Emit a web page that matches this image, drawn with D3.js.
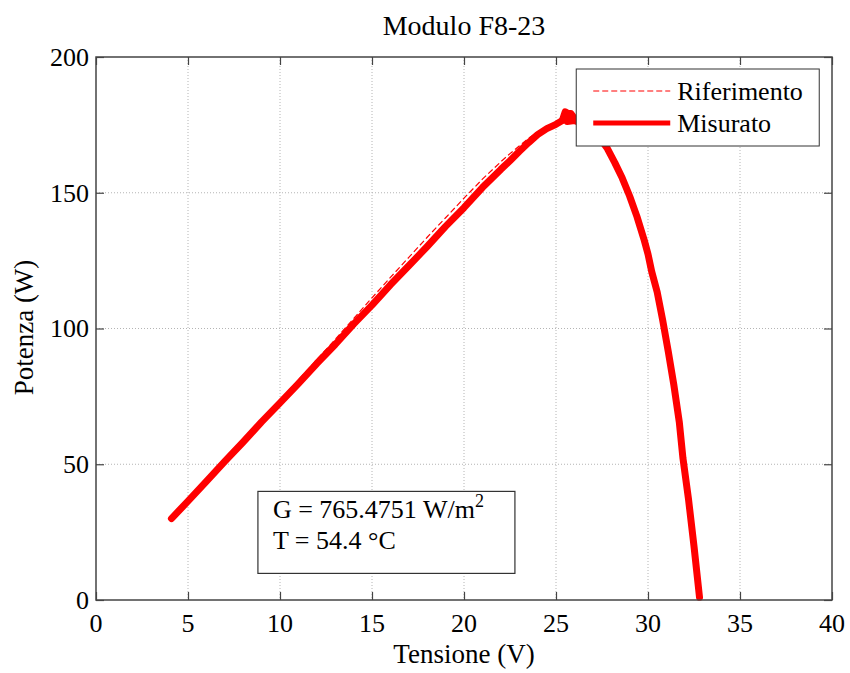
<!DOCTYPE html>
<html>
<head>
<meta charset="utf-8">
<script src="https://cdn.jsdelivr.net/npm/d3@7"></script>
<style>
  body { margin: 0; background: #fff; }
  svg text { font-family: "Liberation Serif", "Times New Roman", serif; fill: #000; }
  .axis line { stroke: #444; stroke-width: 1.2; }
  .axis path { display: none; }
  .grid line { stroke: #b4b4b4; stroke-width: 1; stroke-dasharray: 1,2; }
  .tick-label { font-size: 26px; }
</style>
</head>
<body>
<svg id="chart"></svg>
<script>
// chart values
const title = 'Modulo F8-23';
const xLabel = 'Tensione (V)';
const yLabel = 'Potenza (W)';
const xTicks = [0, 5, 10, 15, 20, 25, 30, 35, 40];
const yTicks = [0, 50, 100, 150, 200];

const measuredV = [4.1, 5, 6, 7, 8, 9, 10, 11, 12, 13, 14, 15, 16, 17, 18, 19, 20, 21, 22, 22.5,
  23, 23.5, 24, 24.5, 25, 25.3, 25.5, 25.8, 26.0, 25.7, 25.4, 25.5, 25.9, 25.6, 26.0, 26.3, 26.6,
  27, 27.4, 27.8, 28.2, 28.6, 29, 29.4, 29.8, 30.0, 30.2, 30.5, 30.8, 31.1, 31.4, 31.7, 31.9,
  32.2, 32.5, 32.8];
const measuredP = [30, 36.4, 43.7, 51.1, 58.2, 65.6, 72.6, 79.7, 87.1, 94.1, 101.6, 108.6, 116.1,
  123.1, 130.2, 137.6, 144.5, 151.9, 158.6, 161.8, 165.2, 168.4, 171.4, 173.6, 175.2, 176.4, 178.6,
  179.2, 177.4, 176.4, 177.8, 179.8, 178.2, 176.2, 176.6, 175.8, 174.4, 172.6, 170, 166.2, 161,
  155.4, 148.8, 141.2, 132.4, 127.4, 121, 113.4, 103, 91.6, 79.4, 65.6, 52.2, 37.2, 19.8, 1];

const referenceV = [4.1, 5, 6, 7, 8, 9, 10, 11, 12, 13, 14, 15, 16, 17, 18, 19, 20, 21, 22, 22.5,
  23, 23.5, 24, 24.5, 25, 25.5, 26, 26.5, 27, 27.5, 28, 28.5, 29, 29.5, 30, 30.5, 31, 31.5, 32,
  32.4, 32.8];
const referenceP = [30.2, 36.8, 44.1, 51.4, 58.8, 66.2, 73.6, 81, 88.5, 96, 103.6, 111.3, 118.8,
  126.2, 133.6, 140.8, 148, 155, 161.4, 164.4, 167.2, 170, 172.4, 174.4, 176, 177.2, 177, 175.6,
  173, 168.8, 163.6, 157.6, 149.8, 139, 127.8, 113.6, 95.2, 75, 47.4, 25.6, 1];

const legendLabels = ['Riferimento', 'Misurato'];
const annotG = 'G = 765.4751 W/m';
const annotT = 'T = 54.4 \u00B0C';

const margin = { top: 57, right: 18, bottom: 73, left: 96 };
const fullWidth = 850;
const fullHeight = 673;
const width = fullWidth - margin.left - margin.right;
const height = fullHeight - margin.top - margin.bottom;

const x = d3.scaleLinear().domain([0, 40]).range([0, width]);
const y = d3.scaleLinear().domain([0, 200]).range([height, 0]);

const svg = d3.select('#chart')
    .attr('width', fullWidth)
    .attr('height', fullHeight)
  .append('g')
    .attr('transform', `translate(${margin.left}, ${margin.top})`);

// grid
svg.append('g')
    .attr('class', 'grid')
  .selectAll('line.v')
    .data(xTicks.slice(1, -1))
  .enter().append('line')
    .attr('x1', d => x(d)).attr('x2', d => x(d))
    .attr('y1', 0).attr('y2', height);

svg.select('.grid')
  .selectAll('line.h')
    .data(yTicks.slice(1, -1))
  .enter().append('line')
    .attr('x1', 0).attr('x2', width)
    .attr('y1', d => y(d)).attr('y2', d => y(d));

// axes: tick marks inward on all four sides, labels drawn separately
svg.append('g')
    .attr('class', 'axis')
    .attr('transform', `translate(0, ${height})`)
    .call(d3.axisBottom(x).tickValues(xTicks).tickSizeInner(-8).tickSizeOuter(0).tickFormat(''));

svg.append('g')
    .attr('class', 'axis')
    .call(d3.axisLeft(y).tickValues(yTicks).tickSizeInner(-8).tickSizeOuter(0).tickFormat(''));

svg.append('g')
    .attr('class', 'axis')
    .call(d3.axisTop(x).tickValues(xTicks).tickSizeInner(-8).tickSizeOuter(0).tickFormat(''));

svg.append('g')
    .attr('class', 'axis')
    .attr('transform', `translate(${width}, 0)`)
    .call(d3.axisRight(y).tickValues(yTicks).tickSizeInner(-8).tickSizeOuter(0).tickFormat(''));

svg.selectAll('.xlab')
    .data(xTicks)
  .enter().append('text')
    .attr('class', 'tick-label')
    .attr('x', d => x(d))
    .attr('y', height + 32)
    .attr('text-anchor', 'middle')
    .text(d => d);

svg.selectAll('.ylab')
    .data(yTicks)
  .enter().append('text')
    .attr('class', 'tick-label')
    .attr('x', -7)
    .attr('y', d => y(d))
    .attr('dy', '0.34em')
    .attr('text-anchor', 'end')
    .text(d => d);

// curves
const line = d3.line()
    .x(d => x(d[0]))
    .y(d => y(d[1]));

svg.append('path')
    .datum(d3.zip(measuredV, measuredP))
    .attr('fill', 'none')
    .attr('stroke', '#ff0000')
    .attr('stroke-width', 7)
    .attr('stroke-linejoin', 'round')
    .attr('stroke-linecap', 'round')
    .attr('d', line);

svg.append('path')
    .datum(d3.zip(referenceV, referenceP))
    .attr('fill', 'none')
    .attr('stroke', '#ff0000')
    .attr('stroke-width', 1.2)
    .attr('stroke-dasharray', '6,3')
    .attr('d', line);

// box
svg.append('rect')
    .attr('width', width)
    .attr('height', height)
    .attr('fill', 'none')
    .attr('stroke', '#444')
    .attr('stroke-width', 1.5);

// labels
svg.append('text')
    .attr('x', width / 2)
    .attr('y', -22)
    .attr('text-anchor', 'middle')
    .style('font-size', '28px')
    .text(title);

svg.append('text')
    .attr('x', width / 2)
    .attr('y', height + 63)
    .attr('text-anchor', 'middle')
    .style('font-size', '27px')
    .text(xLabel);

svg.append('text')
    .attr('transform', `translate(${33 - margin.left}, ${height / 2 - 1}) rotate(-90)`)
    .attr('text-anchor', 'middle')
    .style('font-size', '27px')
    .text(yLabel);

// legend
const legend = svg.append('g')
    .attr('transform', `translate(${x(26.1)}, ${12})`);

legend.append('rect')
    .attr('width', 243)
    .attr('height', 77)
    .attr('fill', '#fff')
    .attr('stroke', '#333')
    .attr('stroke-width', 1);

legend.append('line')
    .attr('x1', 17).attr('x2', 94)
    .attr('y1', 22).attr('y2', 22)
    .attr('stroke', '#ff0000')
    .attr('stroke-width', 1.2)
    .attr('stroke-dasharray', '6,3');

legend.append('line')
    .attr('x1', 17).attr('x2', 94)
    .attr('y1', 54).attr('y2', 54)
    .attr('stroke', '#ff0000')
    .attr('stroke-width', 5);

legend.selectAll('text.lg')
    .data(legendLabels)
  .enter().append('text')
    .attr('x', 101)
    .attr('y', (d, i) => 31 + (i * 32))
    .style('font-size', '26px')
    .text(d => d);

// annotation box
const annot = svg.append('g')
    .attr('transform', `translate(${x(8.8)}, ${y(40)})`);

annot.append('rect')
    .attr('width', 257)
    .attr('height', 82)
    .attr('fill', '#fff')
    .attr('stroke', '#333')
    .attr('stroke-width', 1.2);

const gText = annot.append('text')
    .attr('x', 15)
    .attr('y', 27)
    .style('font-size', '26px')
    .text(annotG);
gText.append('tspan')
    .attr('dy', -11)
    .style('font-size', '18px')
    .text('2');

annot.append('text')
    .attr('x', 15)
    .attr('y', 58)
    .style('font-size', '26px')
    .text(annotT);
</script>
</body>
</html>
